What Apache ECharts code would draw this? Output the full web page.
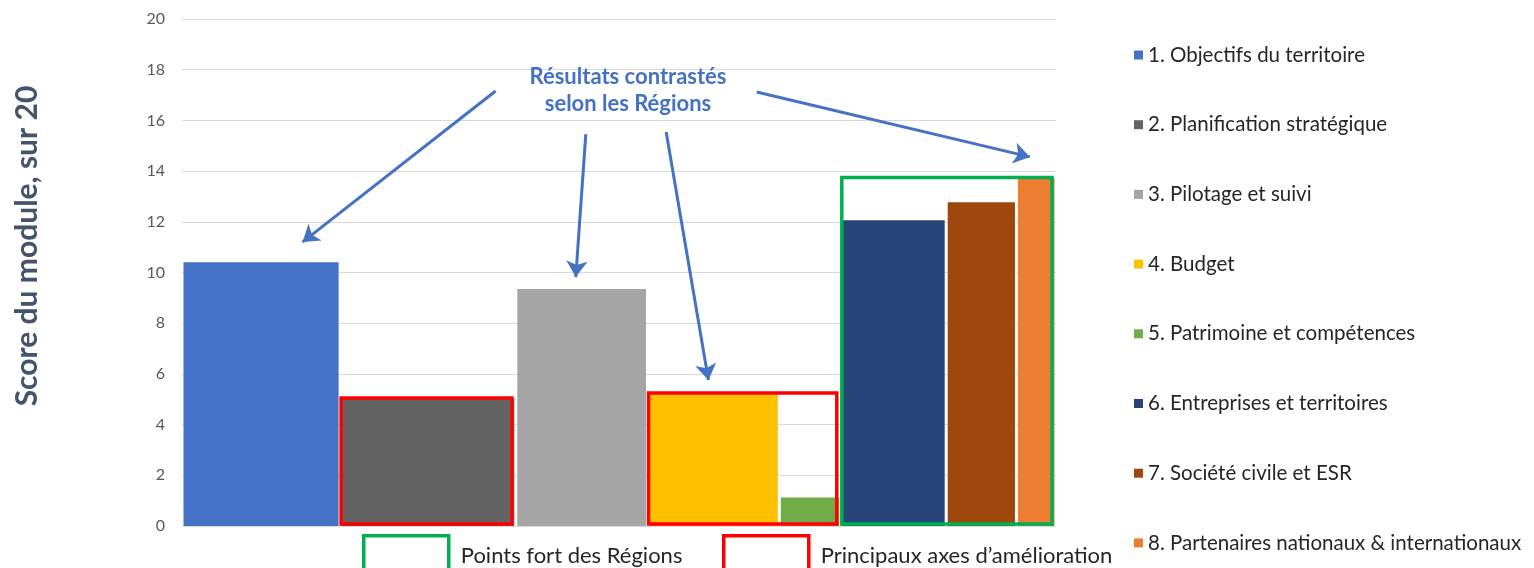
<!DOCTYPE html>
<html>
<head>
<meta charset="utf-8">
<script src="https://cdn.jsdelivr.net/npm/echarts@6/dist/echarts.min.js"></script>
<style>
  html, body { margin: 0; padding: 0; background: #fff; }
  #chart { width: 1534px; height: 568px; }
</style>
</head>
<body>
<div id="chart"></div>
<script>
// modules evaluated (score out of 20, bar width = module weight)
const categories = [
  "1. Objectifs du territoire",
  "2. Planification stratégique",
  "3. Pilotage et suivi",
  "4. Budget",
  "5. Patrimoine et compétences",
  "6. Entreprises et territoires",
  "7. Société civile et ESR",
  "8. Partenaires nationaux & internationaux"
];
const scores = [10.4, 5.05, 9.35, 5.25, 1.12, 12.06, 12.77, 13.75];
const weights = [18, 20, 15, 15, 7, 12, 8, 4.5];
const yTicks = [0, 2, 4, 6, 8, 10, 12, 14, 16, 18, 20];

// highlighted groups (indexes into categories)
const strongGroups = [[5, 6, 7]];
const weakGroups = [[1], [3, 4]];
const strongLabel = "Points fort des Régions";
const weakLabel = "Principaux axes d’amélioration";

// annotation arrows [from, to] in data units
const arrows = [
  [[35.7, 17.16], [13.72, 11.2]],
  [[45.97, 15.46], [44.83, 9.82]],
  [[55.12, 15.54], [59.93, 5.76]],
  [[65.42, 17.12], [96.52, 14.56]]
];

const palette = ["#4472C4", "#636363", "#A5A5A5", "#FFC000", "#70AD47", "#264478", "#9E480E", "#ED7D31"];

const chart = echarts.init(document.getElementById("chart"));

// cumulative x positions
const starts = [];
let acc = 0;
weights.forEach(w => { starts.push(acc); acc += w; });
const total = acc;

function barRender(params, api) {
  const p0 = api.coord([api.value(0), 0]);
  const p1 = api.coord([api.value(1), api.value(2)]);
  return {
    type: "rect",
    shape: { x: p0[0] + 1.5, y: p1[1], width: p1[0] - p0[0] - 3, height: p0[1] - p1[1] },
    style: { fill: api.visual("color") }
  };
}

function boxRender(color) {
  return function (params, api) {
    const p0 = api.coord([api.value(0), 0]);
    const p1 = api.coord([api.value(1), api.value(2)]);
    return {
      type: "rect",
      shape: { x: p0[0] + 1, y: p1[1], width: p1[0] - p0[0] - 5, height: p0[1] - p1[1] - 2 },
      style: { fill: "none", stroke: color, lineWidth: 3.5 }
    };
  };
}

function groupBoxes(groups) {
  return groups.map(g => {
    const first = g[0], last = g[g.length - 1];
    return [starts[first], starts[last] + weights[last], Math.max.apply(null, g.map(i => scores[i]))];
  });
}

const series = categories.map((name, i) => ({
  name: name,
  type: "custom",
  renderItem: barRender,
  itemStyle: { color: palette[i] },
  encode: { x: [0, 1], y: 2 },
  data: [[starts[i], starts[i] + weights[i], scores[i]]],
  z: 2
}));

series.push({
  name: strongLabel,
  type: "custom",
  renderItem: boxRender("#00B050"),
  itemStyle: { color: "#00B050" },
  encode: { x: [0, 1], y: 2 },
  data: groupBoxes(strongGroups),
  z: 3
});

series.push({
  name: weakLabel,
  type: "custom",
  renderItem: boxRender("#FF0000"),
  itemStyle: { color: "#FF0000" },
  encode: { x: [0, 1], y: 2 },
  data: groupBoxes(weakGroups),
  z: 3,
  markLine: {
    silent: true,
    symbol: ["none", "arrow"],
    symbolSize: 16,
    label: { show: false },
    lineStyle: { color: "#4472C4", width: 3, type: "solid" },
    itemStyle: { color: "#4472C4" },
    emphasis: { disabled: true },
    data: arrows.map(a => [{ coord: a[0] }, { coord: a[1] }])
  }
});

chart.setOption({
  animation: false,
  textStyle: { fontFamily: "Lato" },
  title: {
    text: "Résultats contrastés\nselon les Régions",
    left: 623,
    top: 58,
    textAlign: "center",
    textStyle: { fontFamily: "Lato", fontSize: 22, fontWeight: "bold", color: "#4472C4", lineHeight: 27 }
  },
  graphic: [{
    type: "text",
    x: 27,
    y: 246,
    rotation: Math.PI / 2,
    style: {
      text: "Score du module, sur 20",
      font: "bold 30px Lato",
      fill: "#44546A",
      align: "center",
      verticalAlign: "middle"
    }
  }],
  legend: [
    {
      data: categories,
      orient: "vertical",
      left: 1129,
      top: 38,
      icon: "rect",
      itemWidth: 9,
      itemHeight: 9,
      itemGap: 45.7,
      textStyle: { fontFamily: "Lato", fontSize: 20.5, color: "#262626", lineHeight: 24 }
    },
    {
      data: [{ name: strongLabel, itemStyle: { color: "transparent", borderColor: "#00B050", borderWidth: 3.5 } }],
      left: 357,
      top: 529,
      icon: "rect",
      itemWidth: 85,
      itemHeight: 40,
      textStyle: { fontFamily: "Lato", fontSize: 22, color: "#262626", padding: [0, 0, 0, 7] }
    },
    {
      data: [{ name: weakLabel, itemStyle: { color: "transparent", borderColor: "#FF0000", borderWidth: 3.5 } }],
      left: 717,
      top: 529,
      icon: "rect",
      itemWidth: 85,
      itemHeight: 40,
      textStyle: { fontFamily: "Lato", fontSize: 22, color: "#262626", padding: [0, 0, 0, 7] }
    }
  ],
  grid: { left: 182, right: 478, top: 19, bottom: 42 },
  xAxis: {
    type: "value",
    min: 0,
    max: total,
    show: false
  },
  yAxis: {
    type: "value",
    min: yTicks[0],
    max: yTicks[yTicks.length - 1],
    interval: 2,
    axisLine: { show: false },
    axisTick: { show: false },
    axisLabel: { color: "#595959", fontSize: 16, margin: 17, fontFamily: "Lato" },
    splitLine: { lineStyle: { color: "#D9D9D9", width: 1 } }
  },
  series: series
});
</script>
</body>
</html>
